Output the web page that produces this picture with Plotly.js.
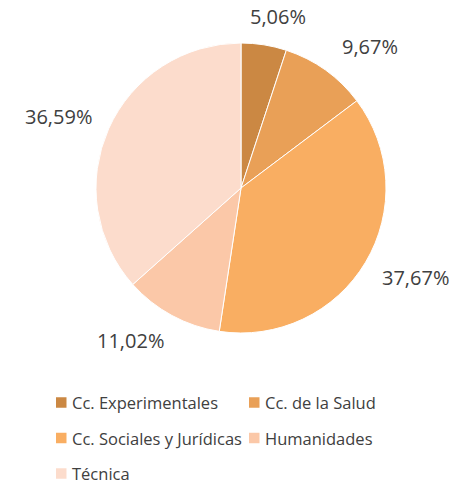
<!DOCTYPE html>
<html>
<head>
<meta charset="utf-8">
<script src="https://cdn.plot.ly/plotly-3.0.1.min.js"></script>
<style>html,body{margin:0;padding:0;background:#fff;}#chart{width:453px;height:485px;}</style>
</head>
<body>
<div id="chart"></div>
<script>
const categories = ["Cc. Experimentales", "Cc. de la Salud", "Cc. Sociales y Jurídicas", "Humanidades", "Técnica"];
const values = [5.06, 9.67, 37.67, 11.02, 36.59];
const colors = ["#CB8843", "#E9A057", "#F9AE62", "#FBC8A8", "#FCDCCC"];

const W = 453, H = 485;
const cx = 241, cy = 188, R = 145;
const fontFam = "Open Sans, sans-serif";
const txtColor = "#404040";

const total = values.reduce((a, b) => a + b, 0);
const annotations = [];
const shapes = [];
let cum = 0;
const clamp = t => Math.max(-1, Math.min(1, t));
values.forEach((v, i) => {
  const th = 2 * Math.PI * (cum + v / 2) / total;
  cum += v;
  const dx = Math.sin(th), dy = -Math.cos(th);
  const d = R + 17;
  const px = cx + d * dx + clamp(dx / 0.5) * 35;
  const py = cy + d * dy + dy * 12;
  annotations.push({
    xref: "paper", yref: "paper",
    x: px / W, y: 1 - py / H,
    xanchor: "center", yanchor: "middle",
    text: v.toFixed(2).replace(".", ",") + "%",
    showarrow: false,
    font: {family: fontFam, size: 20, color: txtColor}
  });
});

// Legend (two columns, drawn as layout shapes + text)
const legCols = [56, 249];
const legRow0 = 402.5, legRowGap = 35.5, sq = 10.5;
categories.forEach((c, i) => {
  const lx = legCols[i % 2];
  const ly = legRow0 + Math.floor(i / 2) * legRowGap;
  shapes.push({
    type: "rect", xref: "paper", yref: "paper",
    x0: lx / W, x1: (lx + sq) / W,
    y0: 1 - (ly - sq / 2) / H, y1: 1 - (ly + sq / 2) / H,
    fillcolor: colors[i], line: {width: 0}
  });
  annotations.push({
    xref: "paper", yref: "paper",
    x: (lx + sq + 4) / W, y: 1 - ly / H,
    xanchor: "left", yanchor: "middle",
    borderpad: 0,
    text: c, showarrow: false,
    font: {family: fontFam, size: 16.5, color: txtColor}
  });
});

const data = [{
  type: "pie",
  labels: categories,
  values: values,
  sort: false,
  direction: "clockwise",
  rotation: 0,
  textinfo: "none",
  hoverinfo: "label+percent",
  marker: {colors: colors, line: {color: "#ffffff", width: 1}},
  domain: {x: [(cx - R) / W, (cx + R) / W], y: [(H - cy - R) / H, (H - cy + R) / H]}
}];

const layout = {
  width: W, height: H,
  margin: {l: 0, r: 0, t: 0, b: 0, autoexpand: false},
  paper_bgcolor: "#ffffff",
  showlegend: false,
  shapes: shapes,
  annotations: annotations
};

Plotly.newPlot("chart", data, layout, {displayModeBar: false, staticPlot: true});
</script>
</body>
</html>
